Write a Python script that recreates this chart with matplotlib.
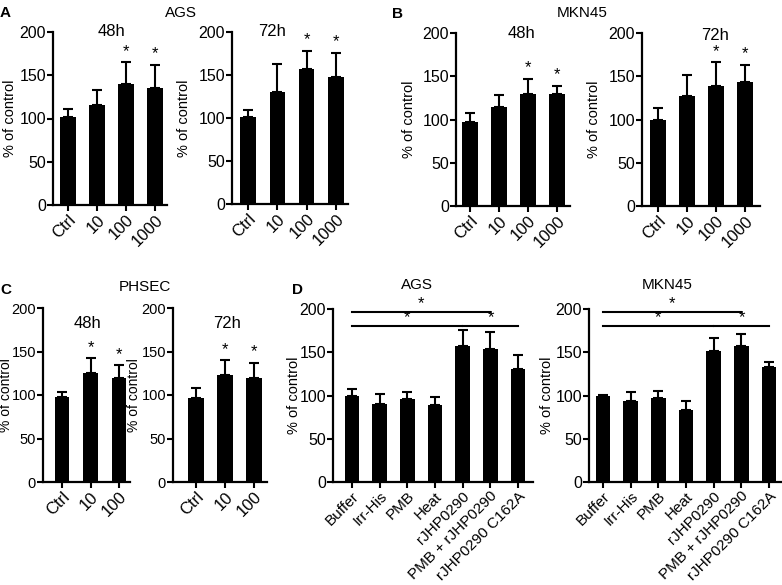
import numpy as np
import matplotlib.pyplot as plt

plt.rcParams['font.family'] = ['Liberation Sans', 'DejaVu Sans']

# ---- data ----
dose4 = ['Ctrl', '10', '100', '1000']
dose3 = ['Ctrl', '10', '100']
treat = ['Buffer', 'Irr-His', 'PMB', 'Heat', 'rJHP0290', 'PMB + rJHP0290', 'rJHP0290 C162A']

ags_48_mean = [102, 116, 140, 135]
ags_48_err = [9, 17, 25, 27]
ags_72_mean = [101, 130, 157, 148]
ags_72_err = [8, 33, 21, 28]

mkn_48_mean = [97, 115, 129, 130]
mkn_48_err = [11, 13, 18, 9]
mkn_72_mean = [99, 127, 139, 143]
mkn_72_err = [14, 25, 27, 20]

phs_48_mean = [98, 125, 120]
phs_48_err = [6, 17, 14]
phs_72_mean = [96, 123, 120]
phs_72_err = [12, 17, 17]

d_ags_mean = [99, 90, 96, 89, 157, 154, 131]
d_ags_err = [8, 12, 8, 9, 19, 19, 16]
d_mkn_mean = [99, 94, 97, 83, 152, 157, 133]
d_mkn_err = [2, 10, 8, 11, 15, 14, 6]

sig4 = [False, False, True, True]
sig3 = [False, True, True]

W, H = 782, 585
fig = plt.figure(figsize=(W / 100, H / 100), dpi=100)


def ftext(x, y, s, **kw):
    # text placed in figure pixels (from top-left)
    fig.text(x / W, 1 - y / H, s, va='center', **kw)


def make_ax(x0, x1, y200, y0, first, last, n, lab_x):
    # pixel box -> figure fraction, xlim from bar centres
    ax = fig.add_axes([x0 / W, 1 - y0 / H, (x1 - x0) / W, (y0 - y200) / H])
    step = (last - first) / (n - 1)
    ax.set_xlim(-(first - x0) / step, (n - 1) + (x1 - last) / step)
    ax.set_ylim(0, 200)
    ax.yaxis.set_label_coords(-(x0 - lab_x) / (x1 - x0), 0.5)
    return ax


def bars(ax, labels, mean, err, sig=None, xfs=12, yfs=10.5, tfs=11.5):
    x = np.arange(len(labels))
    ax.bar(x, mean, width=0.52, color='black', zorder=2)
    ax.errorbar(x, mean, yerr=[np.zeros(len(err)), err], fmt='none',
                ecolor='black', elinewidth=1.5, capsize=3.5, capthick=1.5, zorder=1)
    for s in ['top', 'right']:
        ax.spines[s].set_visible(False)
    for s in ['left', 'bottom']:
        ax.spines[s].set_linewidth(1.6)
    ax.set_yticks([0, 50, 100, 150, 200])
    ax.tick_params(width=1.5, length=4, pad=1)
    ax.tick_params(axis='y', labelsize=tfs)
    ax.set_xticks(x)
    ax.set_xticklabels(labels, rotation=45, ha='right', rotation_mode='anchor', fontsize=xfs)
    ax.set_ylabel('% of control', fontsize=yfs, va='center')
    if sig is not None:
        for i, s in enumerate(sig):
            if s:
                ax.text(i, mean[i] + err[i] + 4, '*', ha='center', va='bottom', fontsize=12)
    return ax


# panel A
ax = make_ax(53, 167, 32, 205, 68, 155, 4, 10)
bars(ax, dose4, ags_48_mean, ags_48_err, sig4)
ax = make_ax(232, 348, 32, 204, 248, 336, 4, 184)
bars(ax, dose4, ags_72_mean, ags_72_err, sig4)

# panel B
ax = make_ax(456, 570, 33, 206, 470, 557, 4, 409)
bars(ax, dose4, mkn_48_mean, mkn_48_err, sig4)
ax = make_ax(642, 760, 33, 206, 658, 745, 4, 594)
bars(ax, dose4, mkn_72_mean, mkn_72_err, sig4)

# panel C
ax = make_ax(43, 130, 308, 482, 62, 119, 3, 6)
bars(ax, dose3, phs_48_mean, phs_48_err, sig3, yfs=10, tfs=10.5)
ax = make_ax(173, 267, 308, 482, 196, 254, 3, 134)
bars(ax, dose3, phs_72_mean, phs_72_err, sig3, yfs=10, tfs=10.5)

# panel D
brackets = [(0, 5, 196), (0, 3.97, 180), (4.03, 6, 180)]
for (x0, x1, f, l, lx, mean, err) in [(333, 533, 352, 518, 294, d_ags_mean, d_ags_err),
                                      (589, 781, 603, 769, 547, d_mkn_mean, d_mkn_err)]:
    ax = make_ax(x0, x1, 309, 482, f, l, 7, lx)
    bars(ax, treat, mean, err, xfs=11)
    for a, b, yv in brackets:
        ax.plot([a, b], [yv, yv], color='black', lw=1.5, clip_on=False)
        ax.text((a + b) / 2, yv + 1, '*', ha='center', va='bottom', fontsize=12, clip_on=False)

# time labels
ftext(112, 32, '48h', fontsize=12, ha='center')
ftext(272, 32, '72h', fontsize=12, ha='center')
ftext(522, 33, '48h', fontsize=12, ha='center')
ftext(715, 35, '72h', fontsize=12, ha='center')
ftext(87, 323, '48h', fontsize=12, ha='center')
ftext(227, 323, '72h', fontsize=12, ha='center')

# panel letters and headers
ftext(0, 13, 'A', fontsize=11, fontweight='bold', ha='left')
ftext(181, 13, 'AGS', fontsize=11, ha='center')
ftext(392, 14, 'B', fontsize=11, fontweight='bold', ha='left')
ftext(582, 13, 'MKN45', fontsize=11, ha='center')
ftext(0, 290, 'C', fontsize=11, fontweight='bold', ha='left')
ftext(145, 287, 'PHSEC', fontsize=11, ha='center')
ftext(292, 290, 'D', fontsize=11, fontweight='bold', ha='left')
ftext(417, 285, 'AGS', fontsize=11, ha='center')
ftext(667, 285, 'MKN45', fontsize=11, ha='center')

fig.savefig('out.png', dpi=100)
